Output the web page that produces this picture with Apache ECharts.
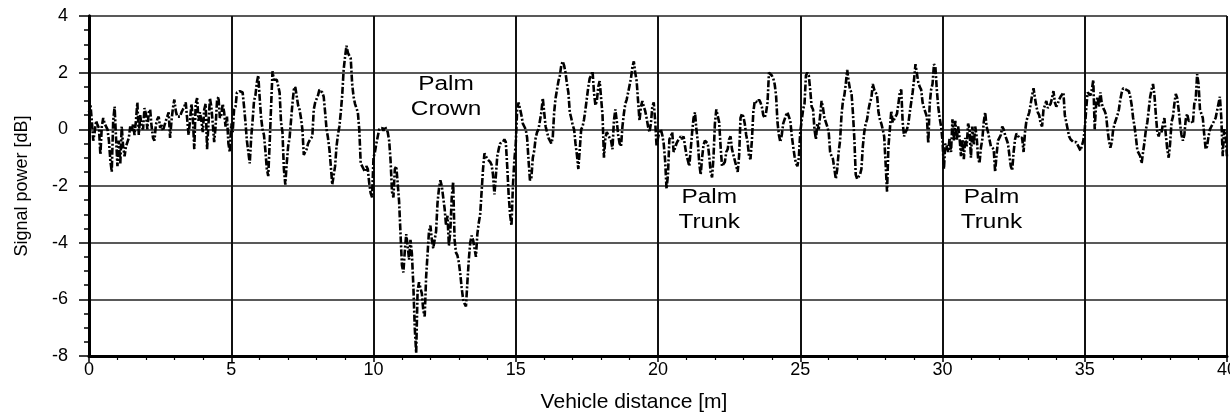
<!DOCTYPE html>
<html lang="en">
<head>
    <meta charset="utf-8">
    <title>Signal power vs vehicle distance</title>
    <style>
        html, body { margin: 0; padding: 0; background: #fff; }
        #chart { width: 1230px; height: 414px; }
    </style>
</head>
<body>
    <div id="chart"></div>
    <script src="https://cdn.jsdelivr.net/npm/echarts@6/dist/echarts.min.js"></script>
    <script type="text/javascript">
        // sampling step of the trace along the distance axis [m]
        var step = 0.05;

        // signal power [dB], one array per 5 m
        var power0to5 = [
            0.6, 0.88, 0.3, -0.4, -0.1, 0.3, 0.15, 0.05, -0.9, 0.1,
            0.4, 0.2, 0.25, 0.0, -0.4, -1.1, -1.5, 0.3, 0.8, -0.3,
            -1.3, -0.4, -1.2, 0.1, -0.6, -0.95, -0.6, -0.45, -0.3, 0.1,
            -0.1, 0.2, -0.2, 0.3, 0.95, -0.2, 0.5, 0.1, 0.0, 0.75,
            0.55, 0.0, 0.6, 0.7, 0.1, -0.3, -0.4, 0.15, 0.35, 0.45,
            0.05, 0.15, -0.05, -0.1, 0.3, 0.45, 0.6, -0.3, 0.3, 0.75,
            1.05, 0.65, 0.45, 0.4, 0.45, 0.6, 0.7, 0.8, 0.95, 1.0,
            -0.2, 0.3, 0.9, 0.4, -0.7, 0.9, 1.1, 0.3, 0.6, 0.3,
            -0.1, 0.7, 0.9, -0.7, 0.2, 1.1, 0.8, 0.2, -0.45, 0.1,
            1.0, 1.15, 0.4, 0.5, 0.9, 0.6, 0.1, 0.45, -0.5, -0.8
        ];
        var power5to10 = [
            0.2, -0.1, 0.7, 0.8, 1.3, 1.3, 1.35, 1.3, 1.3, 0.8,
            0.25, -0.4, -0.8, -1.2, -0.3, 0.3, 1.0, 1.2, 1.65, 1.9,
            1.1, 0.4, 0.0, -0.2, -0.75, -1.4, -1.65, -0.5, 0.8, 2.05,
            1.75, 1.7, 1.75, 1.7, 1.3, 0.25, -0.1, -1.4, -1.95, -1.2,
            -0.6, -0.3, 0.3, 0.9, 1.4, 1.5, 1.55, 0.85, 0.7, 0.4,
            0.0, -0.9, -0.9, -0.7, -0.5, -0.4, -0.35, -0.25, 0.7, 0.95,
            1.0, 1.2, 1.4, 1.35, 1.3, 1.15, 0.6, 0.0, -0.3, -0.7,
            -1.3, -1.95, -1.9, -1.3, -0.6, -0.2, 0.1, 0.6, 1.2, 2.1,
            2.55, 2.95, 2.7, 2.6, 2.5, 1.6, 1.15, 0.9, 0.85, 0.6,
            0.0, -1.2, -1.3, -1.4, -1.5, -1.3, -1.4, -1.9, -2.25, -2.4
        ];
        var power10to15 = [
            -1.0, -0.8, -0.5, -0.25, 0.0, -0.05, 0.05, -0.05, 0.1, 0.0,
            -0.1, -0.4, -1.1, -2.2, -2.4, -1.4, -1.3, -1.9, -2.55, -3.7,
            -4.8, -5.05, -4.3, -3.7, -4.1, -4.6, -3.9, -4.4, -5.5, -7.0,
            -7.9, -5.7, -5.4, -5.35, -5.8, -6.4, -6.6, -5.2, -4.4, -3.6,
            -3.4, -3.9, -4.2, -3.9, -3.6, -2.6, -2.1, -1.8, -2.0, -2.4,
            -2.8, -3.4, -3.05, -4.1, -3.6, -2.4, -1.85, -3.9, -4.35, -4.45,
            -4.7, -5.1, -5.6, -6.0, -6.15, -6.25, -5.4, -4.6, -4.0, -3.75,
            -3.9, -4.2, -4.5, -3.7, -3.3, -3.0, -2.2, -1.4, -0.85, -0.95,
            -1.05, -1.05, -1.15, -1.25, -1.6, -2.3, -1.65, -0.95, -0.7, -0.5,
            -0.45, -0.45, -0.35, -0.45, -1.3, -2.3, -3.0, -3.4, -2.0, -1.1
        ];
        var power15to20 = [
            -0.5, 0.7, 0.95, 0.9, 0.5, 0.2, 0.1, 0.0, -0.3, -1.1,
            -1.8, -1.7, -1.0, -0.75, -0.3, -0.1, 0.0, 0.3, 0.6, 1.1,
            0.6, 0.1, -0.1, -0.3, -0.35, -0.5, -0.3, 0.6, 1.1, 1.4,
            1.7, 1.9, 2.25, 2.4, 2.25, 2.0, 1.6, 1.3, 0.6, 0.4,
            0.15, 0.0, -0.5, -0.9, -1.4, -0.7, 0.0, 0.1, 0.35, 0.7,
            1.1, 1.5, 1.8, 1.9, 2.05, 1.3, 0.85, 1.0, 1.5, 1.7,
            1.1, 0.5, -1.0, -0.3, -0.1, -0.15, -0.3, -0.4, -0.7, 0.3,
            0.7, 0.3, -0.2, -0.5, -0.6, 0.1, 0.55, 0.9, 1.05, 1.3,
            1.55, 1.8, 2.2, 2.4, 2.0, 1.7, 1.0, 0.3, 0.8, 1.0,
            0.8, 0.65, 0.4, 0.1, -0.1, 0.2, 0.8, 0.95, 0.3, -0.6
        ];
        var power20to25 = [
            -0.3, -0.1, 0.0, -0.2, -0.5, -1.1, -2.1, -1.6, -0.35, -0.25,
            -0.1, -0.8, -0.85, -0.5, -0.4, -0.45, -0.25, -0.35, -0.25, -0.6,
            -0.9, -1.1, -1.3, -0.7, -0.1, 0.4, 0.6, 0.0, -0.45, -1.2,
            -1.6, -1.0, -0.55, -0.4, -0.4, -0.5, -0.95, -1.5, -1.7, -1.0,
            0.2, 0.7, 0.75, 0.25, -0.6, -1.3, -1.35, -1.15, -0.8, -0.7,
            -0.35, -0.25, -0.7, -0.9, -1.1, -1.3, -1.5, -0.95, 0.4, 0.55,
            0.45, 0.2, -0.2, -0.45, -0.95, -1.05, -0.4, 0.6, 1.0, 1.0,
            0.95, 1.05, 0.95, 0.8, 0.5, 0.4, 0.6, 0.95, 2.0, 2.05,
            1.9, 1.8, 1.6, 1.2, 0.25, -0.2, -0.45, -0.2, 0.2, 0.35,
            0.5, 0.6, 0.65, 0.3, -0.2, -0.6, -0.95, -1.2, -1.3, -1.0
        ];
        var power25to30 = [
            -0.1, 0.3, 0.7, 0.9, 1.9, 2.0, 1.9, 1.4, 0.8, 0.7,
            0.0, -0.35, 0.2, 0.0, 0.5, 1.0, 0.75, 0.4, 0.35, 0.1,
            -0.1, -0.8, -0.95, -1.05, -1.4, -1.75, -1.4, -0.8, -0.4, 0.5,
            1.0, 1.2, 1.6, 2.1, 1.7, 1.4, 1.3, 0.6, -0.3, -1.6,
            -1.75, -1.7, -1.6, -1.4, -0.6, -0.1, 0.2, 0.35, 0.7, 0.95,
            1.1, 1.6, 1.4, 1.35, 1.2, 0.6, 0.35, 0.2, 0.0, -0.25,
            -1.2, -2.2, -0.6, 0.0, 0.65, 0.25, 0.35, 0.45, 0.55, 0.9,
            1.3, 1.4, 0.25, -0.25, -0.1, 0.0, 0.2, 0.6, 0.95, 1.3,
            1.75, 2.3, 2.35, 1.65, 1.5, 1.4, 0.95, 0.75, 0.7, 0.45,
            -0.5, 0.9, 1.4, 1.6, 2.3, 2.2, 1.4, 0.8, 0.4, 0.1
        ];
        var power30to35 = [
            -0.4, -1.4, -0.5, -0.6, -0.8, -0.3, -0.8, 0.35, -0.4, 0.3,
            -0.4, 0.1, -0.3, -0.95, -0.35, -1.05, -0.3, -0.6, 0.2, 0.0,
            -1.0, 0.1, -0.55, 0.1, -0.25, -1.0, -1.2, -0.65, -0.35, 0.25,
            0.6, 0.1, -0.1, -0.35, -0.6, -0.6, -0.7, -1.5, -0.9, -0.4,
            -0.3, -0.2, 0.1, 0.0, -0.2, -0.35, -0.5, -0.9, -1.3, -1.45,
            -0.8, -0.35, -0.15, -0.2, -0.3, -0.25, -0.3, -0.8, -0.1, 0.3,
            0.45, 0.6, 0.9, 1.2, 1.45, 1.1, 0.8, 0.6, 0.5, 0.2,
            0.1, 0.7, 0.85, 1.0, 0.75, 0.8, 0.9, 1.1, 1.35, 0.95,
            0.8, 0.9, 1.05, 1.15, 1.2, 1.3, 0.5, 0.25, 0.0, -0.25,
            -0.35, -0.4, -0.45, -0.5, -0.45, -0.55, -0.6, -0.75, -0.75, -0.4
        ];
        var power35to40 = [
            0.0, 0.7, 1.3, 1.3, 1.2, 1.4, 1.75, 0.0, 0.9, 1.15,
            0.8, 1.3, 0.9, 0.75, 0.65, 0.5, 0.0, -0.4, -0.65, -0.45,
            0.0, 0.2, 0.35, 0.5, 0.7, 1.05, 1.3, 1.45, 1.4, 1.4,
            1.4, 1.35, 1.15, 0.85, 0.4, 0.1, -0.3, -0.75, -0.85, -0.95,
            -1.2, -0.8, -0.45, 0.0, 0.25, 0.7, 1.15, 1.4, 1.6, 1.2,
            0.5, -0.1, -0.25, 0.0, -0.1, 0.2, 0.4, -0.2, -0.7, -1.0,
            -0.5, 0.25, 0.45, 0.9, 1.25, 1.1, 0.7, 0.2, -0.2, -0.4,
            -0.2, 0.35, 0.55, 0.3, 0.3, 0.3, 0.2, 0.9, 1.05, 1.95,
            1.6, 0.7, 0.55, 0.4, -0.2, -0.7, -0.6, -0.25, 0.0, 0.1,
            0.2, 0.3, 0.4, 0.65, 0.9, 1.15, 0.4, -0.95, 0.0, -0.2,
            -1.0
        ];

        // text labels in the plot: [distance, power, text]
        var notes = [
            [12.55, 1.14, 'Palm\nCrown'],
            [21.8, -2.86, 'Palm\nTrunk'],
            [31.72, -2.86, 'Palm\nTrunk']
        ];

        var xTicks = { min: 0, max: 40, interval: 5 };
        var yTicks = { min: -8, max: 4, interval: 2 };

        var allPower = [].concat(power0to5, power5to10, power10to15, power15to20,
            power20to25, power25to30, power30to35, power35to40);
        var trace = allPower.map(function (v, i) { return [+(i * step).toFixed(2), v]; });

        var font = '"Liberation Sans", Arial, Helvetica, sans-serif';
        var chart = echarts.init(document.getElementById('chart'));
        var option = {
            animation: false,
            backgroundColor: '#fff',
            grid: { left: 89, right: 3, top: 16, bottom: 58, outerBoundsMode: 'none' },
            xAxis: {
                type: 'value',
                min: xTicks.min, max: xTicks.max, interval: xTicks.interval,
                name: 'Vehicle distance [m]',
                nameLocation: 'middle',
                nameGap: 36,
                // title sits a bit left of the axis middle in the original
                nameTextStyle: { color: '#000', fontFamily: font, fontSize: 21, padding: [0, 48, 0, 0] },
                axisLine: { show: true, onZero: false, lineStyle: { color: '#000', width: 3 } },
                axisTick: { show: true, length: 6, lineStyle: { color: '#000', width: 1.5 } },
                minorTick: { show: true, splitNumber: 5, length: 4, lineStyle: { color: '#000', width: 1.2 } },
                axisLabel: { color: '#000', fontFamily: font, fontSize: 18, margin: 5, hideOverlap: false },
                splitLine: { show: true, lineStyle: { color: '#111', width: 2 } }
            },
            yAxis: [
                {
                    type: 'value',
                    min: yTicks.min, max: yTicks.max, interval: yTicks.interval,
                    name: 'Signal power [dB]',
                    nameLocation: 'middle',
                    nameRotate: 90,
                    nameGap: 58,
                    nameTextStyle: { color: '#000', fontFamily: font, fontSize: 18 },
                    axisLine: { show: true, onZero: false, lineStyle: { color: '#000', width: 3 } },
                    axisTick: { show: true, length: 10, lineStyle: { color: '#000', width: 1.5 } },
                    minorTick: { show: true, splitNumber: 4, length: 5, lineStyle: { color: '#000', width: 1.5 } },
                    axisLabel: { color: '#000', fontFamily: font, fontSize: 18, margin: 21 },
                    splitLine: { show: true, lineStyle: { color: '#222', width: 1.5 } }
                },
                {
                    // thick frame line on the right
                    type: 'value', position: 'right',
                    min: yTicks.min, max: yTicks.max, interval: yTicks.interval,
                    axisLine: { show: true, lineStyle: { color: '#000', width: 3 } },
                    axisTick: { show: false }, axisLabel: { show: false }, splitLine: { show: false }
                }
            ],
            series: [{
                type: 'line',
                data: trace,
                symbol: 'none',
                lineStyle: { color: '#000', width: 2.6, type: [7, 2, 2, 2] }
            }]
        };
        chart.setOption(option);

        // place the notes using the chart's own scales
        chart.setOption({
            graphic: notes.map(function (n) {
                var p = chart.convertToPixel({ gridIndex: 0 }, [n[0], n[1]]);
                return {
                    type: 'text', x: p[0], y: p[1], scaleX: 1.22,
                    style: {
                        text: n[2], fill: '#000', font: '20px ' + font,
                        align: 'center', verticalAlign: 'middle', lineHeight: 25
                    }
                };
            })
        });
    </script>
</body>
</html>
